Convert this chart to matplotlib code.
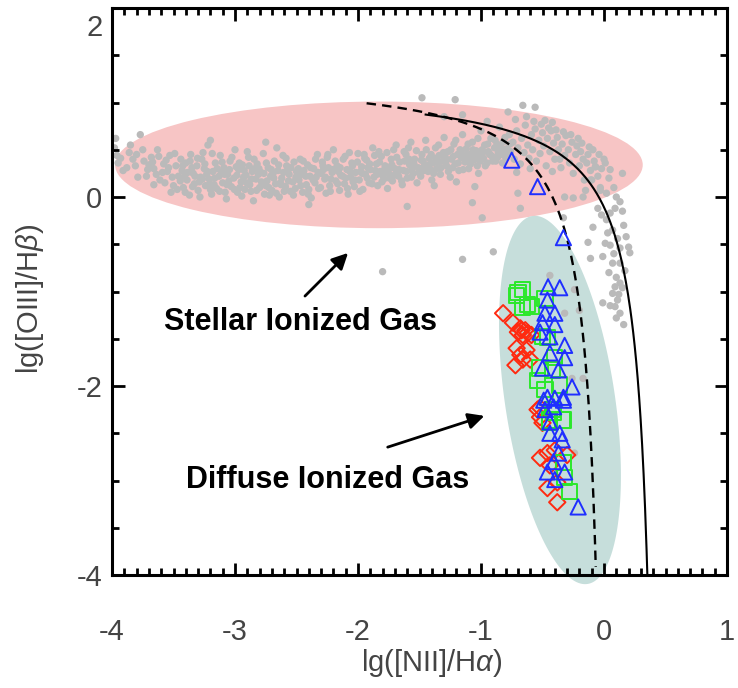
import numpy as np
import matplotlib
matplotlib.use("Agg")
import matplotlib.pyplot as plt
import matplotlib.transforms as mtransforms
from matplotlib.patches import Ellipse, Polygon
from matplotlib.ticker import MultipleLocator

plt.rcParams["font.family"] = ["Liberation Sans", "DejaVu Sans"]
plt.rcParams["axes.unicode_minus"] = False
plt.rcParams["mathtext.fontset"] = "custom"
plt.rcParams["mathtext.rm"] = "Liberation Sans"
plt.rcParams["mathtext.it"] = "Liberation Sans:italic"

# gray comparison sample, main star-forming band
band_x = [-3.98, -3.93, -3.88, -3.85, -3.77, -3.80, -3.74, -3.72, -3.68, -3.66, -3.63, -3.61, -3.58,
          -3.55, -3.53, -3.50, -3.48, -3.46, -3.95, -3.70, -3.59, -3.52, -3.66, -3.83, -3.44,
          -3.43, -3.42, -3.40, -3.39, -3.37, -3.36, -3.34, -3.33, -3.31, -3.30, -3.28, -3.27, -3.25,
          -3.24, -3.22, -3.21, -3.19, -3.18, -3.16, -3.15, -3.13, -3.12, -3.10, -3.09, -3.07, -3.06,
          -3.04, -3.03, -3.01, -3.00, -2.98, -2.97, -2.95, -2.94, -2.92, -2.91, -2.89, -2.88, -2.86,
          -2.85, -2.83, -2.82, -2.80, -2.79, -2.77, -2.76, -2.74, -2.73, -2.71, -2.70, -2.68, -2.67,
          -2.65, -2.64, -2.62, -2.61, -2.59, -2.58, -2.56, -2.55, -2.53, -2.52, -2.50,
          -3.41, -3.35, -3.29, -3.23, -3.17, -3.11, -3.05, -2.99, -2.93, -2.87, -2.81, -2.75, -2.69,
          -2.63, -2.57, -2.51, -3.20, -3.08, -2.96, -2.84, -2.72, -2.60, -3.26, -2.90, -2.66,
          -2.48, -2.47, -2.45, -2.44, -2.42, -2.41, -2.39, -2.38, -2.36, -2.35, -2.33, -2.32, -2.30,
          -2.29, -2.27, -2.26, -2.24, -2.23, -2.21, -2.20, -2.18, -2.17, -2.15, -2.14, -2.12, -2.11,
          -2.09, -2.08, -2.06, -2.05, -2.03, -2.02, -2.00, -1.99, -1.97, -1.96, -1.94, -1.93, -1.91,
          -1.90, -1.88, -1.87, -1.85, -1.84, -1.82, -1.81, -1.79, -1.78, -1.76, -1.75, -1.73, -1.72,
          -1.70, -1.69, -1.67, -1.66, -1.64, -1.63, -1.61, -1.60, -1.58, -1.57, -1.55, -1.54, -1.52,
          -1.51,
          -2.46, -2.40, -2.34, -2.28, -2.22, -2.16, -2.10, -2.04, -1.98, -1.92, -1.86, -1.80, -1.74,
          -1.68, -1.62, -1.56, -2.25, -2.07, -1.95, -1.83, -1.71, -1.59,
          -1.49, -1.48, -1.46, -1.45, -1.43, -1.42, -1.40, -1.39, -1.37, -1.36, -1.34, -1.33, -1.31,
          -1.30, -1.28, -1.27, -1.25, -1.24, -1.22, -1.21, -1.19, -1.18, -1.16, -1.15, -1.13, -1.12,
          -1.10, -1.09, -1.07, -1.06, -1.04, -1.03, -1.01, -1.00, -0.98, -0.97, -0.95, -0.94, -0.92,
          -0.91, -0.89, -0.88, -0.86, -0.85, -0.83, -0.82, -0.80, -0.79, -0.77, -0.76,
          -1.47, -1.41, -1.35, -1.29, -1.23, -1.17, -1.11, -1.05, -0.99, -0.93, -0.87, -0.81, -1.38,
          -1.20, -1.02,
          -0.74, -0.73, -0.71, -0.70, -0.68, -0.67, -0.65, -0.64, -0.62, -0.61, -0.59, -0.58, -0.56,
          -0.55, -0.53, -0.52, -0.50, -0.49, -0.47, -0.46, -0.44, -0.43, -0.41, -0.40, -0.38, -0.37,
          -0.35, -0.34, -0.32, -0.31, -0.29, -0.28, -0.26, -0.25, -0.23, -0.22, -0.20, -0.19, -0.17,
          -0.16, -0.14, -0.13, -0.11, -0.10, -0.08, -0.07, -0.05, -0.03, -0.02, 0.01, 0.05, 0.15,
          -0.15, -0.11]
band_y = [0.52, 0.41, 0.31, 0.55, 0.66, 0.45, 0.38, 0.22, 0.42, 0.30, 0.50, 0.18, 0.35,
          0.27, 0.44, 0.12, 0.33, 0.22, 0.36, 0.34, 0.26, 0.05, 0.13, 0.40, 0.40,
          0.28, 0.10, 0.36, 0.18, 0.02, 0.45, 0.25, 0.14, 0.33, 0.07, 0.21, 0.40, 0.30,
          0.12, 0.55, 0.19, 0.03, 0.27, 0.36, 0.09, 0.22, 0.44, 0.15, 0.31, -0.02, 0.24,
          0.38, 0.11, 0.20, 0.50, 0.05, 0.29, 0.16, 0.34, 0.08, 0.23, 0.42, 0.13, 0.27,
          -0.04, 0.19, 0.35, 0.10, 0.26, 0.46, 0.03, 0.17, 0.31, 0.22, 0.07, 0.38, 0.14,
          0.28, 0.00, 0.20, 0.44, 0.11, 0.33, 0.24, 0.06, 0.16, 0.37, 0.27,
          0.22, 0.31, 0.16, 0.24, 0.13, 0.26, 0.17, 0.32, 0.21, 0.06, 0.24, 0.12, 0.25,
          0.15, 0.29, 0.09, 0.08, 0.05, 0.10, 0.30, 0.02, 0.06, 0.47, 0.48, 0.52,
          0.18, 0.40, 0.05, 0.28, 0.13, 0.34, 0.22, -0.01, 0.30, 0.15, 0.45, 0.09, 0.25,
          0.37, 0.19, 0.04, 0.31, 0.12, 0.26, 0.50, 0.17, 0.33, 0.07, 0.23, 0.40, 0.14,
          0.29, 0.03, 0.21, 0.36, 0.11, 0.26, 0.46, 0.18, 0.32, 0.08, 0.24, 0.39, 0.15,
          0.29, 0.52, 0.21, 0.35, 0.12, 0.27, 0.43, 0.19, 0.33, 0.09, 0.25, 0.40, 0.17,
          0.30, 0.55, 0.22, 0.37, 0.13, 0.28, 0.45, 0.20, 0.34, 0.58, 0.25, 0.40, 0.15,
          0.31,
          0.24, 0.08, 0.21, 0.29, 0.19, 0.27, 0.20, 0.16, 0.27, 0.31, 0.28, 0.23, 0.31,
          0.27, 0.38, 0.30, 0.42, 0.47, 0.45, 0.48, 0.50, 0.52,
          0.22, 0.45, 0.33, 0.60, 0.27, 0.41, 0.18, 0.36, 0.52, 0.30, 0.44, 0.24, 0.38,
          0.63, 0.33, 0.48, 0.21, 0.40, 0.56, 0.35, 0.45, 0.28, 0.42, 0.66, 0.37, 0.51,
          0.30, 0.45, 0.58, 0.39, 0.49, 0.33, 0.44, 0.70, 0.41, 0.55, 0.36, 0.48, 0.62,
          0.43, 0.52, 0.38, 0.47, 0.74, 0.45, 0.58, 0.42, 0.51, 0.66, 0.48,
          0.38, 0.29, 0.37, 0.42, 0.31, 0.50, 0.40, 0.44, 0.50, 0.45, 0.56, 0.50, 0.12,
          0.16, 0.25,
          0.58, 0.40, 0.70, 0.52, 0.35, 0.62, 0.47, 0.76, 0.55, 0.41, 0.66, 0.50, 0.72,
          0.38, 0.60, 0.46, 0.68, 0.54, 0.33, 0.62, 0.48, 0.70, 0.57, 0.40, 0.63, 0.50,
          0.31, 0.56, 0.44, 0.65, 0.50, 0.36, 0.58, 0.25, 0.45, 0.54, 0.33, 0.48, 0.40,
          0.18, 0.36, 0.45, 0.28, 0.18, 0.38, 0.32, 0.22, 0.10, 0.30, 0.36, 0.29, 0.25,
          0.07, 0.18]

# second pass over the band, fills the dense core
band2_x = [-3.96, -3.91, -3.86, -3.81, -3.79, -3.75, -3.71, -3.67, -3.64, -3.62, -3.57, -3.56,
           -3.54, -3.51, -3.49, -3.47,
           -3.445, -3.425, -3.405, -3.385, -3.365, -3.345, -3.325, -3.305, -3.285, -3.265,
           -3.245, -3.225, -3.205, -3.185, -3.165, -3.145, -3.125, -3.105, -3.085, -3.065,
           -3.045, -3.025, -3.005, -2.985, -2.965, -2.945, -2.925, -2.905, -2.885, -2.865,
           -2.845, -2.825, -2.805, -2.785, -2.765, -2.745, -2.725, -2.705, -2.685, -2.665,
           -2.645, -2.625, -2.605, -2.585, -2.565, -2.545, -2.525, -2.505,
           -2.485, -2.465, -2.445, -2.425, -2.405, -2.385, -2.365, -2.345, -2.325, -2.305,
           -2.285, -2.265, -2.245, -2.225, -2.205, -2.185, -2.165, -2.145, -2.125, -2.105,
           -2.085, -2.065, -2.045, -2.025, -2.005, -1.985, -1.965, -1.945, -1.925, -1.905,
           -1.885, -1.865, -1.845, -1.825, -1.805, -1.785, -1.765, -1.745, -1.725, -1.705,
           -1.685, -1.665, -1.645, -1.625, -1.605, -1.585, -1.565, -1.545, -1.525, -1.505,
           -1.485, -1.465, -1.445, -1.425, -1.405, -1.385, -1.365, -1.345, -1.325, -1.305,
           -1.285, -1.265, -1.245, -1.225, -1.205, -1.185, -1.165, -1.145, -1.125, -1.105,
           -1.085, -1.065, -1.045, -1.025, -1.005, -0.985, -0.965, -0.945, -0.925, -0.905,
           -0.885, -0.865, -0.845, -0.825, -0.805, -0.785, -0.765,
           -0.72, -0.63, -0.57, -0.51, -0.45, -0.39, -0.33, -0.27, -0.21, -0.18, -0.12, -0.09,
           -0.04, 0.00, 0.04, 0.08, -0.60, -0.42, -0.36]
band2_y = [0.44, 0.28, 0.47, 0.33, 0.21, 0.50, 0.29, 0.37, 0.24, 0.43, 0.15, 0.39,
           0.31, 0.21, 0.46, 0.08,
           0.17, 0.33, 0.05, 0.26, 0.38, 0.11, 0.22, 0.41, 0.00, 0.19,
           0.35, 0.27, 0.14, 0.46, 0.20, 0.30, 0.06, 0.37, 0.24, 0.13,
           0.29, 0.42, 0.08, 0.23, 0.36, 0.01, 0.28, 0.15, 0.33, 0.19,
           0.40, 0.07, 0.30, 0.16, 0.25, 0.36, 0.10, 0.29, 0.20, 0.04,
           0.34, 0.13, 0.26, 0.41, 0.17, 0.31, 0.02, 0.21,
           0.30, 0.12, 0.38, 0.22, 0.03, 0.31, 0.18, 0.40, 0.26, 0.10,
           0.33, 0.21, 0.45, 0.06, 0.29, 0.38, 0.14, 0.31, 0.22, 0.43,
           0.09, 0.27, 0.33, 0.18, 0.37, 0.06, 0.25, 0.41, 0.20, 0.35,
           0.14, 0.44, 0.24, 0.37, 0.16, 0.29, 0.47, 0.20, 0.34, 0.23,
           0.42, 0.29, 0.17, 0.48, 0.27, 0.40, 0.21, 0.35, 0.49, 0.26,
           0.39, 0.28, 0.50, 0.34, 0.45, 0.25, 0.41, 0.55, 0.31, 0.47,
           0.38, 0.27, 0.50, 0.43, 0.60, 0.36, 0.47, 0.29, 0.44, 0.56,
           0.35, 0.50, 0.41, 0.62, 0.38, 0.47, 0.33, 0.56, 0.45, 0.38,
           0.60, 0.42, 0.53, 0.36, 0.63, 0.45, 0.56,
           0.82, 0.85, 0.80, 0.77, 0.73, 0.71, 0.69, 0.66, 0.62, 0.57, 0.53, 0.50,
           0.45, 0.40, 0.20, 0.10, 0.30, 0.27, 0.40]

# gray sample: scattered outliers and the branch that follows the Kewley line down
scatter_x = [-1.48, -1.21, -1.15, -0.78, -0.66, -0.56, -0.48, -0.42, -1.05, -1.07, -0.70, -0.68,
             -0.99, -0.71, -1.30, -0.95, -3.97, -3.20, -2.75, -1.60, -2.40,
             -0.03, 0.02, 0.10, 0.13, 0.09, 0.05, 0.02, 0.07, 0.03, 0.01, 0.05, 0.13, 0.20, 0.21,
             -0.01, 0.07, 0.13, 0.10, 0.13, 0.09, 0.15, 0.07, 0.11, 0.09, 0.13, 0.10, -0.11, -0.09,
             -0.13, -0.05, -0.02, -0.17, -0.25, -0.32, -0.33, -0.07, 0.16, 0.18, 0.04, 0.17, 0.12,
             0.05, 0.16, 0.08, 0.11, 0.15,
             -1.80, -1.15, -0.90, -0.44, -0.24, -0.20, -0.32, -0.26, -0.17, -0.24, -0.01]
scatter_y = [1.05, 1.03, 0.87, 0.90, 0.97, 0.95, 0.81, 0.79, 0.11, -0.06, 0.04, -0.12,
             -0.22, 0.26, 0.85, 0.80, 0.62, 0.60, 0.58, -0.10, -0.08,
             0.07, 0.04, 0.00, -0.05, -0.12, -0.17, -0.24, -0.35, -0.38, -0.49, -0.51, -0.54, -0.53, -0.59,
             -0.63, -0.70, -0.70, -0.85, -0.91, -0.95, -0.96, -1.02, -1.09, -1.16, -1.23, -1.28, -0.65, -0.32,
             -0.48, -0.12, -0.19, 0.00, -0.01, 0.00, -0.22, 0.32, -0.30, -0.42, -0.80, -0.78, -1.03,
             -1.15, -1.35, -0.60, -0.44, -0.15,
             -0.79, -0.66, -0.58, -0.83, -0.98, -1.20, -1.23, -1.92, -1.92, -2.71, -1.12]

# DIG samples
tri_x = [-0.75, -0.54, -0.33, -0.455, -0.36, -0.46, -0.48, -0.40, -0.50, -0.40, -0.52, -0.44,
         -0.32, -0.44, -0.32, -0.37, -0.26, -0.46, -0.40, -0.33, -0.48, -0.41, -0.50,
         -0.49, -0.33, -0.44, -0.36, -0.34, -0.37, -0.46, -0.40, -0.32, -0.21, -0.44, -0.41]
tri_y = [0.39, 0.11, -0.43, -0.95, -0.96, -1.09, -1.23, -1.23, -1.33, -1.35, -1.43, -1.48,
         -1.57, -1.65, -1.70, -1.83, -2.01, -2.12, -2.13, -2.12, -2.25, -2.22, -1.81,
         -2.15, -2.15, -2.50, -2.50, -2.57, -2.71, -2.91, -2.99, -2.91, -3.28, -2.38, -2.80]

sq_x = [-0.70, -0.66, -0.71, -0.62, -0.59, -0.66, -0.48, -0.50, -0.46, -0.40, -0.52, -0.42,
        -0.54, -0.36, -0.48, -0.41, -0.34, -0.44, -0.42, -0.33, -0.44, -0.33, -0.32, -0.28]
sq_y = [-1.01, -0.98, -1.04, -1.14, -1.16, -1.17, -1.07, -1.48, -1.49, -1.70, -1.81, -1.83,
        -1.94, -1.99, -2.04, -2.28, -2.36, -2.38, -2.25, -2.36, -2.36, -2.81, -2.97, -3.12]

dia_x = [-0.82, -0.74, -0.67, -0.68, -0.64, -0.62, -0.66, -0.70, -0.59, -0.71, -0.63, -0.66,
         -0.72, -0.60, -0.68, -0.52, -0.52, -0.54, -0.50, -0.52, -0.46, -0.40, -0.30, -0.44,
         -0.46, -0.38, -0.38]
dia_y = [-1.23, -1.33, -1.41, -1.39, -1.41, -1.44, -1.46, -1.43, -1.46, -1.60, -1.62, -1.72,
         -1.78, -1.72, -1.67, -2.23, -2.33, -2.25, -2.39, -2.76, -2.71, -2.68, -2.73, -2.84,
         -3.08, -3.02, -3.23]

# region ellipses: (centre, half-axis vectors) in data units
stellar_center = (-1.83, 0.34)
stellar_size = (4.29, 1.34)
dig_center = np.array([-0.358, -2.148])
dig_u = np.array([0.224, -1.947])
dig_v = np.array([0.442, 0.086])

fig = plt.figure(figsize=(7.38, 6.88), dpi=100)
ax = fig.add_axes([112 / 738, 1 - 575 / 688, 615 / 738, 567 / 688])

ax.add_patch(Ellipse(stellar_center, stellar_size[0], stellar_size[1],
                     facecolor="#f7c5c5", edgecolor="none", zorder=0))
t = np.linspace(0, 2 * np.pi, 200)
pts = dig_center + np.outer(np.cos(t), dig_u) + np.outer(np.sin(t), dig_v)
ax.add_patch(Polygon(pts, closed=True, facecolor="#c6dedb", edgecolor="none",
                     zorder=0, clip_on=False))

gray = "#bababa"
for gx, gy in [(band_x, band_y), (band2_x, band2_y), (scatter_x, scatter_y)]:
    ax.scatter(gx, gy, s=28, color=gray, edgecolors="none", zorder=1)

# Kauffmann (2003) and Kewley (2001) demarcation lines
xk = np.linspace(-1.93, -0.067, 300)
ax.plot(xk, 0.61 / (xk - 0.05) + 1.3, color="black", lw=1.7, ls=(0, (4, 2.6)), zorder=2)
xw = np.linspace(-1.45, 0.352, 300)
ax.plot(xw, 0.61 / (xw - 0.47) + 1.19, color="black", lw=1.5, zorder=2)

ax.scatter(dia_x, dia_y, s=70, marker="D", facecolors="none", edgecolors="#ff2a10",
           linewidths=1.4, zorder=3)
ax.scatter(sq_x, sq_y, s=120, marker="s", facecolors="none", edgecolors="#2be82b",
           linewidths=1.4, zorder=3)
ax.scatter(tri_x, tri_y, s=120, marker="^", facecolors="none", edgecolors="#1f2fff",
           linewidths=1.4, zorder=4)

ax.annotate("", xy=(-2.065, -0.571), xytext=(-2.447, -1.069),
            arrowprops=dict(arrowstyle="-|>", color="black", lw=2, mutation_scale=24))
ax.annotate("", xy=(-0.951, -2.307), xytext=(-1.78, -2.656),
            arrowprops=dict(arrowstyle="-|>", color="black", lw=2, mutation_scale=24))
ax.text(-2.47, -1.32, "Stellar Ionized Gas", fontsize=22, fontweight="bold",
        ha="center", va="center", zorder=5)
ax.text(-2.25, -3.0, "Diffuse Ionized Gas", fontsize=22, fontweight="bold",
        ha="center", va="center", zorder=5)

ax.set_xlim(-4, 1)
ax.set_ylim(-4, 2)
ax.xaxis.set_major_locator(MultipleLocator(1))
ax.xaxis.set_minor_locator(MultipleLocator(0.1))
ax.yaxis.set_major_locator(MultipleLocator(2))
ax.yaxis.set_minor_locator(MultipleLocator(0.5))
ax.tick_params(which="both", direction="in", top=True, right=True, width=2,
               labelsize=21, labelcolor="#444444")
ax.tick_params(which="major", length=9)
ax.tick_params(which="minor", length=5)
ax.tick_params(axis="x", which="major", pad=31)
ax.tick_params(axis="y", which="major", pad=7)
for sp in ax.spines.values():
    sp.set_linewidth(2.2)

ax.set_xlabel(r"lg([NII]/H$\alpha$)", fontsize=21, color="#444444", labelpad=1)
ax.set_ylabel(r"lg([OIII]/H$\beta$)", fontsize=21, color="#444444", labelpad=22)
ax.xaxis.label.set_x(0.519)
ax.yaxis.label.set_y(0.487)

# top y label sits a little below its tick, as in the original
fig.canvas.draw()
for lab in ax.get_yticklabels():
    if lab.get_text() == "2":
        lab.set_transform(lab.get_transform() +
                          mtransforms.ScaledTranslation(0, -12 / 72, fig.dpi_scale_trans))

fig.savefig("out.png", dpi=100)
